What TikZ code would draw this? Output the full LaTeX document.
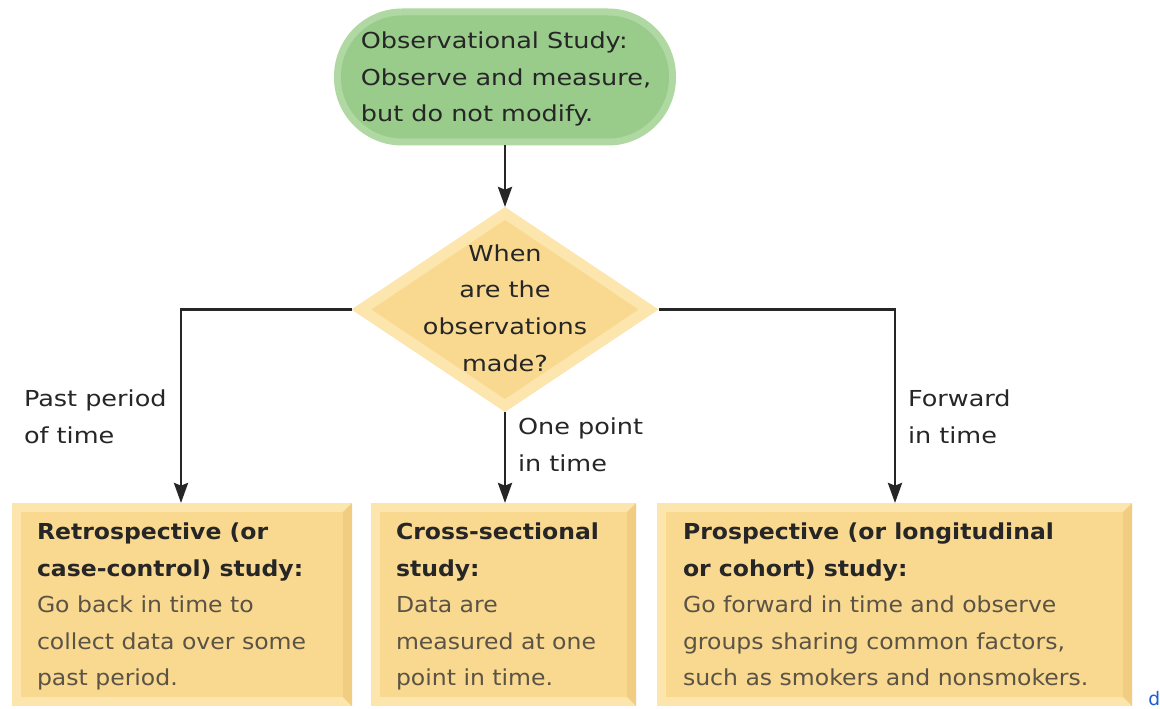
\documentclass[tikz,border=0pt]{standalone}
\usepackage{fontspec}
\setmainfont{DejaVu Sans}
\newfontfamily\fontwide[FakeStretch=1.16]{DejaVu Sans}
\newfontfamily\fontbox[FakeStretch=1.07]{DejaVu Sans}
\usetikzlibrary{shapes.geometric,arrows.meta}
\definecolor{greenout}{HTML}{AFD8A2}
\definecolor{greenin}{HTML}{99CB8B}
\definecolor{ylight}{HTML}{FCE6AE}
\definecolor{ydark}{HTML}{F1CD82}
\definecolor{ymain}{HTML}{F9D98F}
\definecolor{inkdark}{HTML}{262626}
\definecolor{inkgray}{HTML}{5A5346}
\definecolor{linkblue}{HTML}{1A5FD0}
\newcommand{\ttl}[1]{\textbf{#1}}
\newcommand{\dsc}[1]{\textcolor{inkgray}{#1}}
\begin{document}
\begin{tikzpicture}[x=0.75pt,y=-0.75pt,
  txt/.style={inner sep=0pt, outer sep=0pt, text=inkdark,
    font=\fontwide\fontsize{16.5pt}{27.4pt}\selectfont},
  boxtxt/.style={inner sep=0pt, outer sep=0pt, text=inkdark, align=left, anchor=north west,
    font=\fontbox\fontsize{16.5pt}{27.4pt}\selectfont},
  boxshape/.style={rectangle, fill=ylight, inner sep=0pt, outer sep=0pt, anchor=north west, minimum height=152.25pt},
  conn/.style={line width=2.2pt, draw=inkdark, -{Stealth[length=15pt,width=10.5pt,inset=2pt]}}]
\useasboundingbox (0,0) rectangle (1160,709);
\fill[white] (0,0) rectangle (1160,709);

% top stadium
\node[rectangle, rounded corners=51pt, fill=greenout, minimum width=256.5pt, minimum height=102.75pt, inner sep=0pt, outer sep=0pt] (obs) at (505,77) {};
\fill[greenin, rounded corners=46pt] ([shift={(7,7)}]obs.north west) rectangle ([shift={(-7,-7)}]obs.south east);
\node[txt, align=left] (obst) at (506,79) {Observational Study:\\Observe and measure,\\but do not modify.};

% decision diamond
\node[diamond, fill=ylight, minimum width=230.25pt, minimum height=153.75pt, inner sep=0pt, outer sep=0pt] (q) at (505,309.5) {};
\fill[ymain] ([shift={(0,13)}]q.north) -- ([shift={(-20,0)}]q.east) -- ([shift={(0,-13)}]q.south) -- ([shift={(20,0)}]q.west) -- cycle;
\node[txt, align=center] (qt) at (505,308) {When\\are the\\observations\\made?};

% boxes
\node[boxshape, minimum width=255pt] (b1) at (12,503) {};
\node[boxshape, minimum width=198.75pt] (b2) at (371,503) {};
\node[boxshape, minimum width=356.25pt] (b3) at (657,503) {};
\foreach \b in {b1,b2,b3}{
  \fill[ydark] (\b.north east) -- (\b.south east) -- ([shift={(-9,-9)}]\b.south east) -- ([shift={(-9,9)}]\b.north east) -- cycle;
  \fill[ymain] ([shift={(9,9)}]\b.north west) rectangle ([shift={(-9,-9)}]\b.south east);
}
\node[boxtxt] (b1t) at (37,523) {\ttl{Retrospective (or}\\\ttl{case-control) study:}\\\dsc{Go back in time to}\\\dsc{collect data over some}\\\dsc{past period.}};
\node[boxtxt] (b2t) at (396,523) {\ttl{Cross-sectional}\\\ttl{study:}\\\dsc{Data are}\\\dsc{measured at one}\\\dsc{point in time.}};
\node[boxtxt] (b3t) at (683,523) {\ttl{Prospective (or longitudinal}\\\ttl{or cohort) study:}\\\dsc{Go forward in time and observe}\\\dsc{groups sharing common factors,}\\\dsc{such as smokers and nonsmokers.}};

% connectors
\draw[conn] (obs.south) -- (q.north);
\draw[conn] (q.west) -| (b1.north -| 181,0);
\draw[conn] (q.south) -- (q.south |- b2.north);
\draw[conn] (q.east) -| (b3.north -| 895,0);

% labels
\node[txt, align=left, anchor=north west] (l1) at (24,390) {Past period\\of time};
\node[txt, align=left, anchor=north west] (l2) at (518,418) {One point\\in time};
\node[txt, align=left, anchor=north west] (l3) at (908,390) {Forward\\in time};

\node[inner sep=0pt, anchor=base west, text=linkblue, font=\fontsize{14pt}{16pt}\selectfont] (dd) at (1148,705) {d};
\end{tikzpicture}
\end{document}
